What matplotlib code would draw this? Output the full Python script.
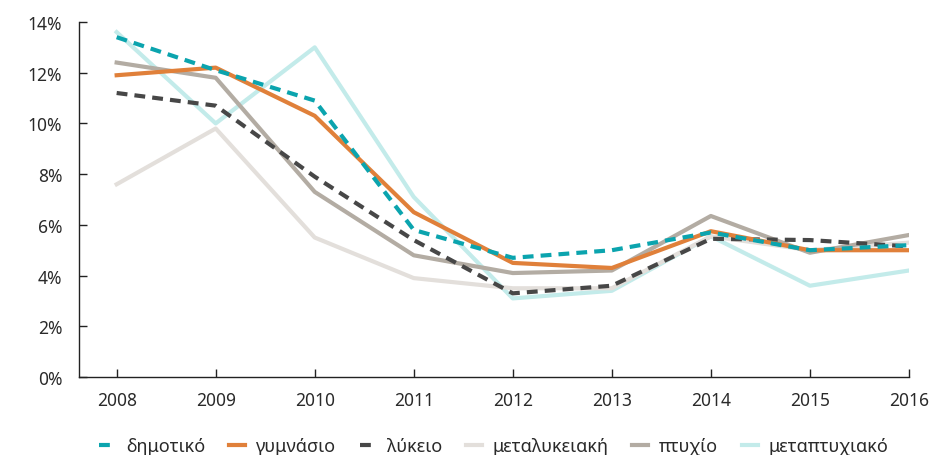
import matplotlib.pyplot as plt
from matplotlib.ticker import FuncFormatter

plt.rcParams['font.family'] = ['Noto Sans', 'DejaVu Sans']

years = [2008, 2009, 2010, 2011, 2012, 2013, 2014, 2015, 2016]

dimotiko = [13.4, 12.1, 10.9, 5.8, 4.7, 5.0, 5.7, 5.0, 5.2]
gymnasio = [11.9, 12.2, 10.3, 6.5, 4.5, 4.3, 5.75, 5.0, 5.0]
lykeio = [11.2, 10.7, 7.9, 5.4, 3.3, 3.6, 5.45, 5.4, 5.15]
metalykeiaki = [7.6, 9.8, 5.5, 3.9, 3.5, 3.5, 5.55, 5.0, 5.3]
ptyxio = [12.4, 11.8, 7.3, 4.8, 4.1, 4.2, 6.35, 4.9, 5.6]
metaptyxiako = [13.6, 10.0, 13.0, 7.1, 3.1, 3.4, 5.55, 3.6, 4.2]

labels = ['δημοτικό', 'γυμνάσιο', 'λύκειο', 'μεταλυκειακή', 'πτυχίο', 'μεταπτυχιακό']

fig = plt.figure(figsize=(9.33, 4.56), dpi=100)
ax = fig.add_axes([0.0847, 0.171, 0.8895, 0.7786])

lw = 3.0
h6, = ax.plot(years, metaptyxiako, color='#c3ebea', lw=lw, zorder=1)
h4, = ax.plot(years, metalykeiaki, color='#e3dfdb', lw=lw, zorder=2)
h5, = ax.plot(years, ptyxio, color='#b3aca3', lw=lw, zorder=3)
h3, = ax.plot(years, lykeio, color='#474747', lw=lw, ls=(0, (2.6, 1.7)), zorder=4)
h2, = ax.plot(years, gymnasio, color='#e0803a', lw=lw, zorder=5)
h1, = ax.plot(years, dimotiko, color='#0ba4ae', lw=lw, ls=(0, (2.6, 1.7)), zorder=6)

ax.set_xlim(2007.62, 2016)
ax.set_ylim(0, 14)
ax.set_xticks(years)
ax.set_yticks(range(0, 15, 2))
ax.yaxis.set_major_formatter(FuncFormatter(lambda v, p: f'{v:.0f}%'))

for s in ['top', 'right']:
    ax.spines[s].set_visible(False)
for s in ['left', 'bottom']:
    ax.spines[s].set_color('#222222')
    ax.spines[s].set_linewidth(1.0)

ax.tick_params(axis='both', direction='in', length=6, width=1, color='#222222',
               labelsize=12.5, labelcolor='#2a2a2a')
ax.tick_params(axis='x', pad=10)
ax.tick_params(axis='y', pad=12)

leg = ax.legend([h1, h2, h3, h4, h5, h6], labels, ncol=6, frameon=False,
                loc='center', bbox_to_anchor=(0.5, -0.195), fontsize=13,
                handlelength=0.9, handletextpad=0.6, columnspacing=1.3,
                labelcolor='#2a2a2a')

fig.savefig('out.png', dpi=100)
